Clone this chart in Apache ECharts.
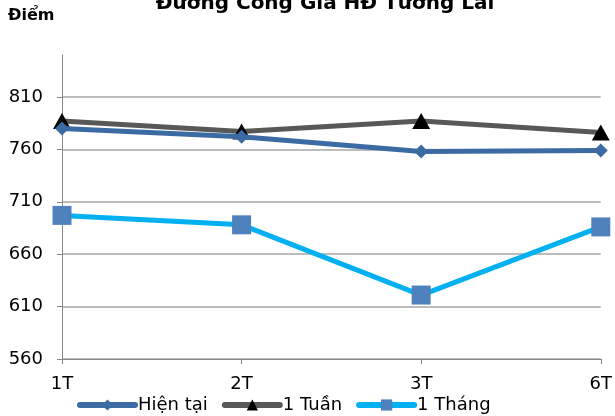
<!DOCTYPE html>
<html><head><meta charset="utf-8">
<script src="https://cdn.jsdelivr.net/npm/echarts@6/dist/echarts.min.js"></script>
<style>html,body{margin:0;padding:0;background:#fff}#c{width:615px;height:416px}</style>
</head><body><div id="c"></div>
<script>
var categories = ['1T', '2T', '3T', '6T'];
var hienTai = [780, 772, 758, 759];
var motTuan = [787, 777, 787, 776];
var motThang = [697, 688, 621, 686];
var seriesNames = ['Hiện tại', '1 Tuần', '1 Tháng'];

var chart = echarts.init(document.getElementById('c'));
var font = 'DejaVu Sans, sans-serif';
var grid = '#a6a6a6';
chart.setOption({
  animation: false,
  textStyle: {fontFamily: font},
  title: {text: 'Đường Cong Giá HĐ Tương Lai', left: 320, textAlign: 'center', top: -11,
    textStyle: {fontFamily: font, fontSize: 20, fontWeight: 'bold', color: '#000'}},
  graphic: [{type: 'text', left: 8, top: 8, style: {text: 'Điểm', fontFamily: font, fontSize: 16, fontWeight: 'bold', fill: '#000'}}],
  grid: {left: 62, right: 12, top: 55, bottom: 57, containLabel: false},
  legend: {top: 391, left: 72, itemWidth: 55, itemHeight: 14, itemGap: 14,
    lineStyle: {width: 6, cap: 'round'},
    textStyle: {fontFamily: font, fontSize: 18, color: '#000', padding: [0,0,0,-2]},
    data: seriesNames},
  xAxis: {type: 'category', data: categories, boundaryGap: false,
    axisLine: {lineStyle: {color: '#868686', width: 1}},
    axisTick: {show: true, length: 5, alignWithLabel: true, lineStyle: {color: '#868686'}},
    axisLabel: {fontFamily: font, fontSize: 18, color: '#000', margin: 16}},
  yAxis: {type: 'value', min: 560, max: 850, interval: 50,
    axisLine: {show: true, lineStyle: {color: '#868686'}},
    axisTick: {show: true, length: 5, lineStyle: {color: '#868686'}},
    axisLabel: {fontFamily: font, fontSize: 18, color: '#000', margin: 19, showMaxLabel: false},
    splitLine: {show: true, lineStyle: {color: [grid, grid, grid, grid, grid, grid, 'rgba(0,0,0,0)'], width: 1.5}}},
  series: [
    {name: seriesNames[0], type: 'line', data: hienTai, symbol: 'diamond', symbolSize: 14,
      lineStyle: {color: '#3c6aa3', width: 5}, itemStyle: {color: '#3c6aa3'}, z: 3},
    {name: seriesNames[1], type: 'line', data: motTuan, symbol: 'triangle', symbolSize: [18, 16],
      lineStyle: {color: '#585858', width: 5}, itemStyle: {color: '#000'}, z: 2},
    {name: seriesNames[2], type: 'line', data: motThang, symbol: 'rect', symbolSize: 19,
      lineStyle: {color: '#00b0f0', width: 5}, itemStyle: {color: '#4f81bd'}, z: 4}
  ]
});
</script></body></html>
